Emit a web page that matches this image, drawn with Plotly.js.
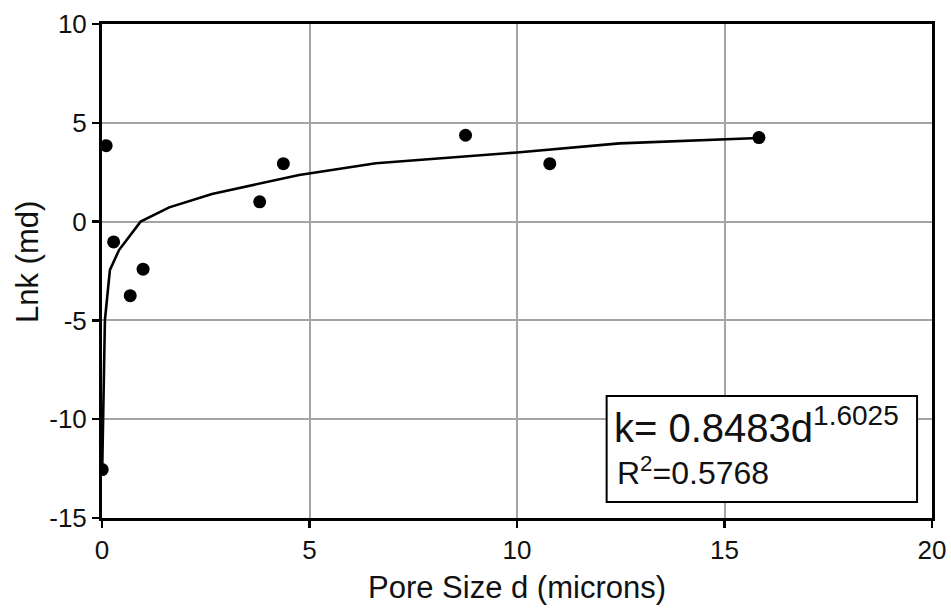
<!DOCTYPE html>
<html>
<head>
<meta charset="utf-8">
<script src="https://cdn.plot.ly/plotly-3.0.1.min.js"></script>
<style>html,body{margin:0;padding:0;background:#fff;}#chart{width:951px;height:610px;}</style>
</head>
<body>
<div id="chart"></div>
<script>
// Measured data points: pore size d (microns) vs ln k (md)
var poreSize = [0.005, 0.10, 0.28, 0.68, 0.99, 3.80, 4.37, 8.76, 10.79, 15.83];
var lnK      = [-12.55, 3.84, -1.03, -3.75, -2.41, 1.00, 2.93, 4.37, 2.93, 4.25];

// Trend line vertices
var trendX = [0.005, 0.07, 0.19, 0.41, 0.93, 1.13, 1.62, 2.65, 4.75, 6.60, 10.0, 12.47, 15.83];
var trendY = [-12.55, -4.98, -2.45, -1.44, 0.00, 0.20, 0.72, 1.40, 2.36, 2.95, 3.50, 3.96, 4.23];

var xTicks = [0, 5, 10, 15, 20];
var yTicks = [-15, -10, -5, 0, 5, 10];

var fontFam = 'Liberation Sans, Arial, Helvetica, sans-serif';

var traces = [
  {
    x: trendX, y: trendY, type: 'scatter', mode: 'lines',
    line: {color: '#000', width: 2.6, shape: 'linear'},
    hoverinfo: 'skip', showlegend: false
  },
  {
    x: poreSize, y: lnK, type: 'scatter', mode: 'markers',
    marker: {color: '#000', size: 13, symbol: 'circle'},
    showlegend: false
  }
];

var layout = {
  width: 951, height: 610,
  margin: {l: 102, r: 19, t: 24, b: 92, pad: 0},
  paper_bgcolor: '#fff', plot_bgcolor: '#fff',
  font: {family: fontFam, color: '#111', size: 26},
  xaxis: {
    range: [0, 20], tickvals: xTicks, ticktext: xTicks.map(String),
    showgrid: true, gridcolor: '#a4a4a4', gridwidth: 2,
    zeroline: false, showline: true, linecolor: '#000', linewidth: 3, mirror: true,
    ticks: 'outside', ticklen: 7, tickwidth: 2.5, tickcolor: '#000',
    tickfont: {size: 26, family: fontFam, color: '#111'},
    title: {text: 'Pore Size d (microns)', font: {size: 31, family: fontFam, color: '#111'}, standoff: 13}
  },
  yaxis: {
    range: [-15, 10], tickvals: yTicks, ticktext: yTicks.map(String),
    showgrid: true, gridcolor: '#a4a4a4', gridwidth: 2,
    zeroline: false, showline: true, linecolor: '#000', linewidth: 3, mirror: true,
    ticks: 'outside', ticklen: 7, tickwidth: 2.5, tickcolor: '#000',
    tickfont: {size: 26, family: fontFam, color: '#111'}
  },
  shapes: [
    {type: 'rect', xref: 'x', yref: 'y', x0: 12.16, x1: 19.64, y0: -14.19, y1: -8.83,
     line: {color: '#000', width: 2}, fillcolor: '#fff', layer: 'above'}
  ],
  annotations: [
    {xref: 'paper', yref: 'paper', x: -0.0905, y: 0.518, xanchor: 'center', yanchor: 'middle',
     text: 'Lnk (md)', textangle: -90, showarrow: false,
     font: {size: 31, family: fontFam, color: '#111'}},
    {xref: 'x', yref: 'y', x: 12.3, y: -10.3, xanchor: 'left', yanchor: 'middle',
     text: 'k= 0.8483d<sup>1.6025</sup>', showarrow: false,
     font: {size: 40, family: fontFam, color: '#111'}},
    {xref: 'x', yref: 'y', x: 12.35, y: -12.6, xanchor: 'left', yanchor: 'middle',
     text: 'R<sup>2</sup>=0.5768', showarrow: false,
     font: {size: 32, family: fontFam, color: '#111'}}
  ]
};

Plotly.newPlot('chart', traces, layout, {displayModeBar: false, staticPlot: true});
</script>
</body>
</html>
